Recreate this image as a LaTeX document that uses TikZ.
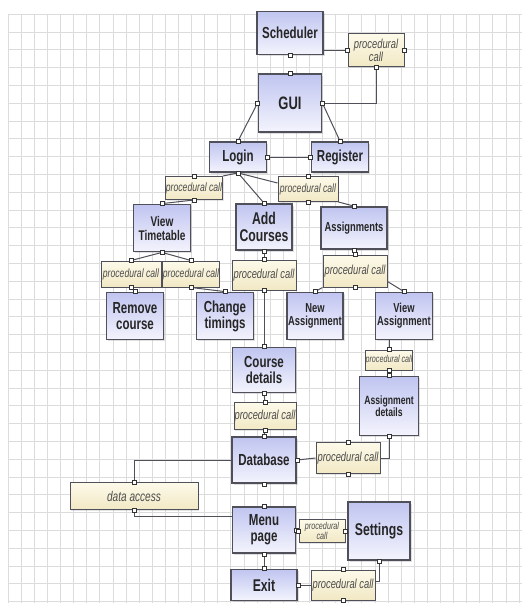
\documentclass[tikz,border=0pt]{standalone}
\usepackage{fontspec}
\newfontfamily\boxfont[FakeStretch=0.72]{Liberation Sans}
\usetikzlibrary{shadows}
\definecolor{boxtop}{RGB}{192,197,240}
\definecolor{boxbot}{RGB}{244,244,253}
\definecolor{calltop}{RGB}{253,250,234}
\definecolor{callbot}{RGB}{241,232,196}
\definecolor{edgegray}{RGB}{80,80,90}
\definecolor{gridgray}{RGB}{220,220,220}
\tikzset{
    wh/.style 2 args={minimum width=#1pt,minimum height=#2pt},
    module/.style={draw=edgegray,line width=1.8pt,top color=boxtop,bottom color=boxbot,inner sep=0pt,align=center,
        text=black!85,font=\boxfont\bfseries\fontsize{#1}{#1}\selectfont,
        drop shadow={opacity=0.25,shadow xshift=1.5pt,shadow yshift=-1.5pt}},
    module/.default=16,
    call/.style={draw=edgegray,line width=1pt,top color=calltop,bottom color=callbot,inner sep=0pt,align=center,
        text=black!70,font=\boxfont\itshape\fontsize{#1}{#1}\selectfont,
        drop shadow={opacity=0.2,shadow xshift=1pt,shadow yshift=-1pt}},
    call/.default=13,
    link/.style={draw=edgegray,line width=1pt},
    pinbox/.style={draw=black!80,fill=white,line width=0.5pt},
    gridline/.style={draw=gridgray,line width=0.5pt}
}
\begin{document}
\begin{tikzpicture}[x=1pt,y=-1pt]
        \useasboundingbox (0,0) rectangle (525,603);
        \fill[white] (0,0) rectangle (525,603);
        % grid paper
        \foreach \i in {0,...,39} {
            \draw[gridline] ({8+13.1*\i},14) -- ({8+13.1*\i},603);
        }
        \foreach \j in {0,...,33} {
            \draw[gridline] (8,{14+17.8*\j}) -- (522,{14+17.8*\j});
        }
        % modules
        \node[module,wh={66}{43}] (sched) at (290,33) {Scheduler};
        \node[module=18,wh={63}{58}] (gui) at (290,103) {GUI};
        \node[module,wh={57}{30}] (login) at (238,157) {Login};
        \node[module,wh={57}{30}] (reg) at (340,157) {Register};
        \node[module=14,wh={57}{47}] (vt) at (162,228) {View\\Timetable};
        \node[module=17,wh={56}{46}] (add) at (264,227) {Add\\Courses};
        \node[module=13,wh={66}{42}] (asg) at (354,228) {Assignments};
        \node[module,wh={57}{47}] (rm) at (135,316) {Remove\\course};
        \node[module,wh={57}{47}] (ct) at (225,316) {Change\\timings};
        \node[module=13,wh={56}{47}] (na) at (315,316) {New\\Assignment};
        \node[module=13,wh={57}{47}] (va) at (404,316) {View\\Assignment};
        \node[module,wh={63}{45}] (cd) at (264,370) {Course\\details};
        \node[module=12,wh={59}{59}] (ad) at (389,406) {Assignment\\details};
        \node[module,wh={64}{46}] (db) at (264,460) {Database};
        \node[module,wh={63}{46}] (menu) at (264,530) {Menu\\page};
        \node[module=17,wh={62}{58}] (set) at (379,531) {Settings};
        \node[module=17,wh={66}{31}] (exit) at (264,585) {Exit};
        % procedural calls
        \node[call,wh={56}{33}] (pc1) at (376,50) {procedural\\call};
        \node[call=12,wh={57}{23}] (pcvt) at (194,188) {procedural call};
        \node[call=12,wh={60}{25}] (pcas) at (308,189) {procedural call};
        \node[call=12,wh={60}{26}] (pcrm) at (131,274) {procedural call};
        \node[call=12,wh={55}{26}] (pcct) at (191,274) {procedural call};
        \node[call,wh={64}{30}] (pcad) at (264,275) {procedural call};
        \node[call,wh={64}{32}] (pcna) at (355,271) {procedural call};
        \node[call=10,wh={46}{20}] (pcva) at (389,360) {procedural call};
        \node[call,wh={62}{27}] (pccd) at (265,416) {procedural call};
        \node[call,wh={64}{31}] (pcdb) at (348,458) {procedural call};
        \node[call=14,wh={128}{27}] (da) at (134,496) {data access};
        \node[call=10,wh={46}{23}] (pcmn) at (322,531) {procedural\\call};
        \node[call,wh={64}{30}] (pcex) at (343,585) {procedural call};
        % connectors
        \draw[link] (sched.east |- pc1.west) -- (pc1.west);
        \draw[link] (pc1.south) |- (gui.east);
        \draw[link] (gui.west) -- (login.north);
        \draw[link] (gui.east) -- (reg.north);
        \draw[link] (login.east) -- (reg.west);
        \draw[link] (login.south) -- (pcvt.north east);
        \draw[link] (pcvt.south) -- (vt.north);
        \draw[link] (login.south) -- (add.north);
        \draw[link] (login.south) -- ([yshift=6pt]pcas.west);
        \draw[link] (pcas.south east) -- (asg.north);
        \draw[link] (vt.south) -- (pcrm.north);
        \draw[link] (vt.south) -- (pcct.north);
        \draw[link] (pcrm.south) -- (rm.north);
        \draw[link] (pcct.south) -- (ct.north);
        \draw[link] (add.south) -- (pcad.north);
        \draw[link] (pcad.south) -- (cd.north);
        \draw[link] (asg.south) -- (pcna.north);
        \draw[link] (pcna.south west) -- (na.north);
        \draw[link] ([yshift=6pt]pcna.south east) -- (va.north);
        \draw[link] (va.south -| pcva.north) -- (pcva.north);
        \draw[link] (pcva.south) -- (ad.north);
        \draw[link] (cd.south) -- (pccd.north);
        \draw[link] (pccd.south) -- (db.north);
        \draw[link] (db.east) -- (pcdb.west);
        \draw[link] (pcdb.east) -| (ad.south);
        \draw[link] (db.west) -| (da.north);
        \draw[link] (da.south) |- ([yshift=14pt]menu.west);
        \draw[link] (menu.east) -- (pcmn.west);
        \draw[link] (pcmn.east) -- (set.west);
        \draw[link] (menu.south) -- (exit.north);
        \draw[link] (exit.east) -- (pcex.west);
        \draw[link] ([yshift=4pt]pcex.east) -| (set.south);
        % pins
        \foreach \p in {sched.south,pc1.west,pc1.east,pc1.south,gui.north,gui.west,gui.east,
            login.north,login.east,login.south,reg.north,reg.west,pcvt.north,pcvt.south,pcas.north,pcas.south,
            vt.north,vt.south,add.north,add.south,asg.north,asg.south,pcrm.north,pcrm.south,pcct.north,pcct.south,
            pcad.north,pcad.south,pcna.north,pcna.south,na.north,va.north,rm.north,ct.north,cd.north,cd.south,
            pcva.north,pcva.south,ad.north,ad.south,pccd.north,pccd.south,db.north,db.east,db.south,
            pcdb.north,pcdb.south,da.north,da.south,menu.north,menu.east,menu.south,pcmn.west,pcmn.east,
            set.south,exit.north,exit.east,pcex.north,pcex.south} {
            \draw[pinbox] (\p) ++(-2,-2) rectangle ++(4,4);
        }
    \end{tikzpicture}
\end{document}
